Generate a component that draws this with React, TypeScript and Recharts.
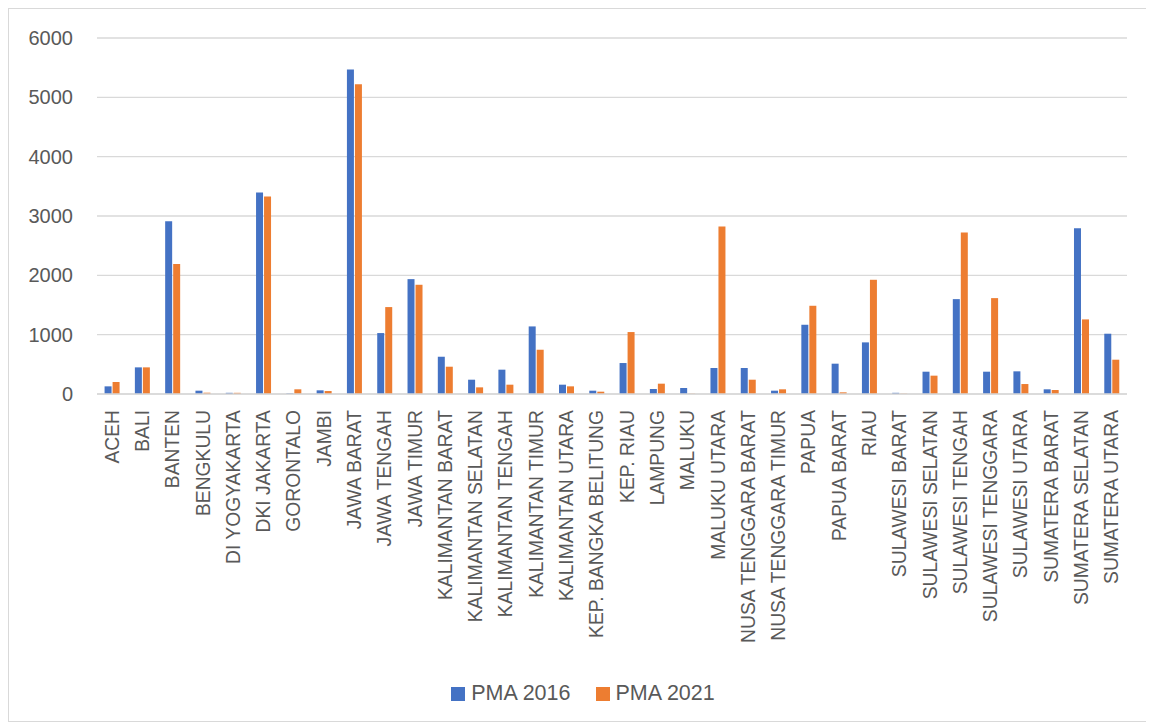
import { BarChart, Bar, XAxis, YAxis, CartesianGrid, Legend } from 'recharts';

const provinces = [
    'ACEH', 'BALI', 'BANTEN', 'BENGKULU', 'DI YOGYAKARTA', 'DKI JAKARTA', 'GORONTALO', 'JAMBI',
    'JAWA BARAT', 'JAWA TENGAH', 'JAWA TIMUR', 'KALIMANTAN BARAT', 'KALIMANTAN SELATAN',
    'KALIMANTAN TENGAH', 'KALIMANTAN TIMUR', 'KALIMANTAN UTARA', 'KEP. BANGKA BELITUNG',
    'KEP. RIAU', 'LAMPUNG', 'MALUKU', 'MALUKU UTARA', 'NUSA TENGGARA BARAT',
    'NUSA TENGGARA TIMUR', 'PAPUA', 'PAPUA BARAT', 'RIAU', 'SULAWESI BARAT', 'SULAWESI SELATAN',
    'SULAWESI TENGAH', 'SULAWESI TENGGARA', 'SULAWESI UTARA', 'SUMATERA BARAT',
    'SUMATERA SELATAN', 'SUMATERA UTARA',
];

const pma2016 = [
    129, 449, 2912, 56, 20, 3395, 10, 62,
    5471, 1027, 1936, 628, 241,
    410, 1139, 157, 56,
    522, 84, 101, 438, 438,
    56, 1167, 511, 870, 20, 376,
    1599, 376, 382, 79,
    2795, 1016,
];

const pma2021 = [
    202, 449, 2189, 22, 20, 3328, 79, 50,
    5219, 1465, 1841, 460, 112,
    157, 746, 129, 39,
    1044, 174, 5, 2823, 241,
    79, 1487, 28, 1925, 5, 309,
    2722, 1616, 168, 67,
    1257, 578,
];

const yTicks = [0, 1000, 2000, 3000, 4000, 5000, 6000];

const data = provinces.map((name, i) => ({ name, pma2016: pma2016[i], pma2021: pma2021[i] }));

const FONT = '"Liberation Sans", Arial, sans-serif';
const TEXT = '#595959';

// rotated category label, reads bottom to top
const ProvinceTick = ({ x, y, payload }: any) => (
    <text
        x={x}
        y={y + 16}
        transform={`rotate(-90, ${x}, ${y + 16})`}
        textAnchor="end"
        dominantBaseline="central"
        fill={TEXT}
        fontSize={19.3}
        fontFamily={FONT}
    >
        {payload.value}
    </text>
);

const LegendContent = ({ payload }: any) => (
    <div style={{ display: 'flex', justifyContent: 'center', gap: 25, paddingTop: 6, paddingLeft: 30, fontFamily: FONT, fontSize: 21.5, color: TEXT }}>
        {(payload || []).map((entry: any) => (
            <div key={entry.value} style={{ display: 'flex', alignItems: 'center' }}>
                <span style={{ width: 14, height: 14, background: entry.color, display: 'inline-block', marginRight: 6 }} />
                <span>{entry.value}</span>
            </div>
        ))}
    </div>
);

export default function App() {
    return (
        <div style={{ width: 1140, height: 712, border: '1px solid #d9d9d9', background: '#fff' }}>
            <BarChart
                width={1140}
                height={712}
                data={data}
                margin={{ top: 29, right: 22, left: 0, bottom: 0 }}
                barCategoryGap="25%"
                barGap={1}
            >
                <CartesianGrid vertical={false} stroke="#d9d9d9" strokeWidth={1.3} />
                <XAxis
                    dataKey="name"
                    interval={0}
                    height={281}
                    axisLine={{ stroke: '#d9d9d9', strokeWidth: 1.3 }}
                    tickLine={false}
                    tickSize={0}
                    tickMargin={0}
                    tick={<ProvinceTick />}
                />
                <YAxis
                    width={88}
                    domain={[0, 6000]}
                    ticks={yTicks}
                    axisLine={false}
                    tickLine={false}
                    tickSize={0}
                    tickMargin={24}
                    tick={{ fill: TEXT, fontSize: 20, fontFamily: FONT }}
                />
                <Legend verticalAlign="bottom" height={46} content={<LegendContent />} />
                <Bar dataKey="pma2016" name="PMA 2016" fill="#4472C4" isAnimationActive={false} />
                <Bar dataKey="pma2021" name="PMA 2021" fill="#ED7D31" isAnimationActive={false} />
            </BarChart>
        </div>
    );
}
